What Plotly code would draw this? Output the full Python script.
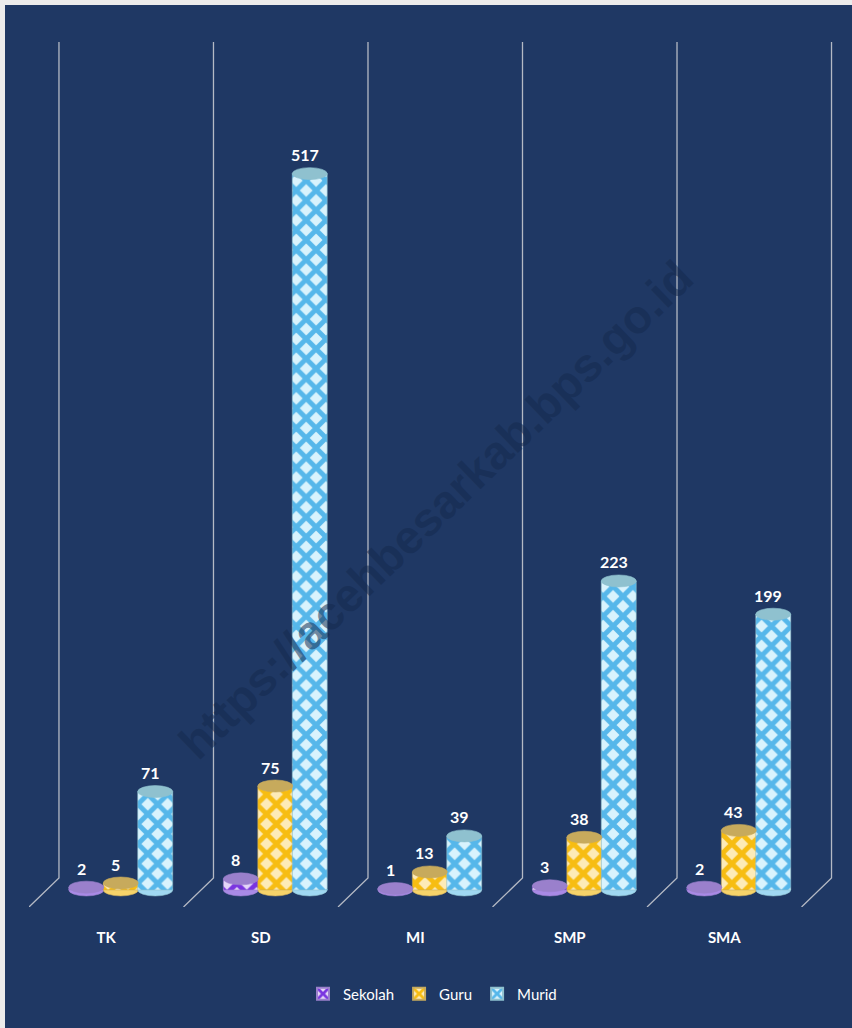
import plotly.graph_objects as go

categories = ["TK", "SD", "MI", "SMP", "SMA"]
sekolah = [2, 8, 1, 3, 2]
guru = [5, 75, 13, 38, 43]
murid = [71, 517, 39, 223, 199]

W, H = 852, 1028
L, R, T, B = 29, 836, 42, 907
NAVY = "#1f3864"
FONT = "Lato, Liberation Sans, sans-serif"

series = [
    ("Sekolah", sekolah, -0.129, "#e4d6f8", "#7a35e0", "#9a80cc", "#a98ae6"),
    ("Guru", guru, 0.094, "#fdebb8", "#f7bd12", "#c7aa5c", "#f6d36a"),
    ("Murid", murid, 0.317, "#d9f3fd", "#56b7ea", "#8fc1cf", "#a0d8f2"),
]
BAR_W = 0.226
X_RANGE = [-0.5, 4.723]
Y_RANGE = [-12.3, 612]
WALL_BACK = 0.194
WALL_FLOOR = 8.7

fig = go.Figure()
wx, wy = [], []
for i in range(6):
    e = i - 0.5
    wx += [e, e + WALL_BACK, e + WALL_BACK, None]
    wy += [Y_RANGE[0], WALL_FLOOR, Y_RANGE[1], None]
fig.add_trace(go.Scatter(x=wx, y=wy, mode="lines", line=dict(color="#b4b9c4", width=1.3),
                         showlegend=False, hoverinfo="skip", cliponaxis=False))

shapes = [dict(type="rect", xref="paper", yref="paper", layer="below",
               x0=(5 - L) / (R - L), x1=(852 - L) / (R - L),
               y0=(B - 1028) / (B - T), y1=(B - 5) / (B - T),
               fillcolor=NAVY, line_width=0)]
annotations = []
for name, vals, off, light, dark, cap, mid in series:
    xs = [i + off for i in range(5)]
    fig.add_trace(go.Bar(
        x=xs, y=vals, width=BAR_W, name=name,
        marker=dict(color=light, line=dict(color=cap, width=0.6),
                    pattern=dict(shape="x", fgcolor=dark, bgcolor=light, size=14, solidity=0.58,
                                 fillmode="replace")),
    ))
    for x, v in zip(xs, vals):
        shapes.append(dict(type="circle", xref="x", yref="y", xsizemode="pixel", ysizemode="pixel",
                           xanchor=x, yanchor=0, x0=-17.5, x1=17.5, y0=-6, y1=6,
                           fillcolor=mid, line=dict(color=cap, width=0.6), layer="below"))
        shapes.append(dict(type="circle", xref="x", yref="y", xsizemode="pixel", ysizemode="pixel",
                           xanchor=x, yanchor=v, x0=-17.5, x1=17.5, y0=-6, y1=6,
                           fillcolor=cap, line=dict(color=cap, width=0.6), layer="above"))
        annotations.append(dict(x=x, y=v, xref="x", yref="y", text=f"<b>{v}</b>", showarrow=False,
                                xshift=-5, yshift=19, font=dict(color="white", size=16, family=FONT)))

annotations.append(dict(xref="paper", yref="paper", x=(436 - L) / (R - L), y=(B - 510) / (B - T),
                        text="<b>https://acehbesarkab.bps.go.id</b>", showarrow=False, textangle=-44,
                        font=dict(size=47, color="rgba(21,42,78,0.55)", family="Liberation Sans")))

fig.update_layout(
    width=W, height=H, autosize=False,
    margin=dict(l=L, r=W - R, t=T, b=H - B),
    paper_bgcolor="#ececec", plot_bgcolor="rgba(0,0,0,0)",
    barmode="overlay", shapes=shapes, annotations=annotations,
    xaxis=dict(range=X_RANGE, tickvals=list(range(5)), ticktext=[f"<b>{c}</b>" for c in categories],
               showgrid=False, zeroline=False, showline=False, ticks="outside", ticklen=17,
               tickcolor="rgba(0,0,0,0)", tickfont=dict(color="white", size=15, family=FONT)),
    yaxis=dict(range=Y_RANGE, visible=False, showgrid=False, zeroline=False),
    legend=dict(orientation="h", x=0.5, xanchor="center", y=(B - 994) / (B - T), yanchor="middle",
                font=dict(color="white", size=15, family=FONT), itemwidth=30, bgcolor="rgba(0,0,0,0)",
                itemsizing="constant"),
)
fig.write_html("out.html", config=dict(displayModeBar=False),
               post_script="document.body.style.margin='0';document.body.style.overflow='hidden';")
